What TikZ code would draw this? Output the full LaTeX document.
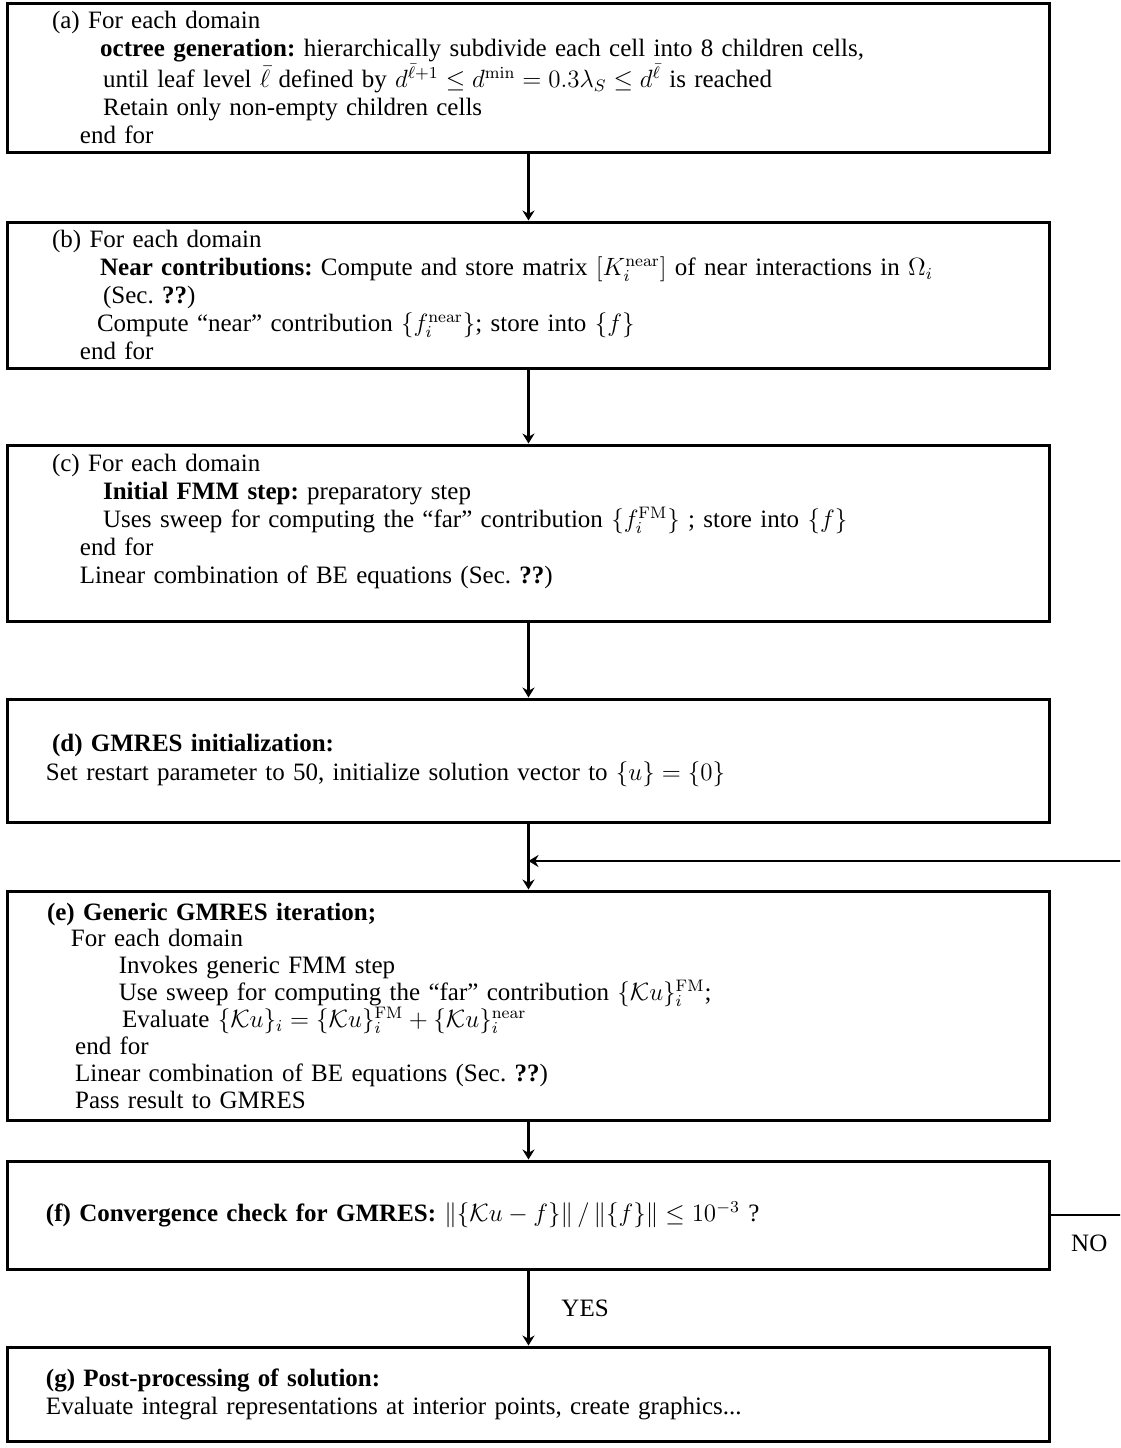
\documentclass[tikz,border=0pt]{standalone}
\usepackage[no-math]{fontspec}
\setmainfont{Liberation Serif}
\usetikzlibrary{arrows.meta}
\frenchspacing

\begin{document}
\begin{tikzpicture}[x=0.48pt, y=-0.48pt,
    stepbox/.style={draw, line width=1.44pt, minimum width=499.68pt, text width=463.2pt,
        inner xsep=18.24pt, align=left, font=\fontsize{12}{13.5}\selectfont},
    flow/.style={line width=1pt, -{Stealth[length=4.8pt, width=5.8pt, inset=1.6pt]}},
    lbl/.style={font=\fontsize{12}{13.5}\selectfont}]
    \useasboundingbox (0,0) rectangle (1120,1448);
    \clip (0,0) rectangle (1120,1448);

    % steps of the solver
    \node[stepbox, minimum height=71.52pt] (a) at (528.5,77.5) {%
        \hspace*{2.9pt}(a) For each domain\\
        \hspace*{26pt}\textbf{octree generation:} hierarchically subdivide each cell into 8 children cells,\\
        \hspace*{27.4pt}until leaf level $\bar{\ell}$ defined by $d^{\bar{\ell}+1}\leq d^{\mathrm{min}}=0.3\lambda_S\leq d^{\bar{\ell}}$ is reached\\
        \hspace*{27.4pt}Retain only non-empty children cells\\
        \hspace*{16.3pt}end for};
    \node[stepbox, minimum height=70.08pt] (b) at (528.5,295) {%
        \hspace*{2.9pt}(b) For each domain\\
        \hspace*{26pt}\textbf{Near contributions:} Compute and store matrix $[K_i^{\mathrm{near}}]$ of near interactions in $\Omega_i$\\
        \hspace*{27.4pt}(Sec. \textbf{??})\\
        \hspace*{24.5pt}Compute ``near'' contribution $\{f_i^{\mathrm{near}}\}$; store into $\{f\}$\\
        \hspace*{16.3pt}end for};
    \node[stepbox, minimum height=84.48pt] (c) at (528.5,533) {%
        \hspace*{2.9pt}(c) For each domain\\
        \hspace*{27.4pt}\textbf{Initial FMM step:} preparatory step\\
        \hspace*{27.4pt}Uses sweep for computing the ``far'' contribution $\{f_i^{\mathrm{FM}}\}$ ; store into $\{f\}$\\
        \hspace*{16.3pt}end for\\
        \hspace*{16.3pt}Linear combination of BE equations (Sec. \textbf{??})\\
        \mbox{}};
    \node[stepbox, minimum height=59.04pt] (d) at (528.5,760.5) {%
        \hspace*{2.9pt}\textbf{(d) GMRES initialization:}\\
        Set restart parameter to 50, initialize solution vector to $\{u\}=\{0\}$};
    \node[stepbox, minimum height=109.92pt, font=\fontsize{12}{12.9}\selectfont] (e) at (528.5,1005.5) {%
        \hspace*{0.5pt}\textbf{(e) Generic GMRES iteration;}\\
        \hspace*{12pt}For each domain\\
        \hspace*{35pt}Invokes generic FMM step\\
        \hspace*{35pt}Use sweep for computing the ``far'' contribution $\{\mathcal{K}u\}_i^{\mathrm{FM}}$;\\
        \hspace*{36.5pt}Evaluate $\{\mathcal{K}u\}_i=\{\mathcal{K}u\}_i^{\mathrm{FM}}+\{\mathcal{K}u\}_i^{\mathrm{near}}$\\
        \hspace*{14pt}end for\\
        \hspace*{14pt}Linear combination of BE equations (Sec. \textbf{??})\\
        \hspace*{14pt}Pass result to GMRES\par\vspace*{6.7pt}};
    \node[stepbox, minimum height=51.84pt] (f) at (528.5,1215) {%
        \textbf{(f) Convergence check for GMRES:} $\|\{\mathcal{K}u-f\}\|\,/\,\|\{f\}\|\leq 10^{-3}$ ?};
    \node[stepbox, minimum height=45.12pt] (g) at (528.5,1394) {%
        \textbf{(g) Post-processing of solution:}\\
        Evaluate integral representations at interior points, create graphics...};

    % loop back to the GMRES iteration
    \coordinate (loopy) at (0,861);
    \coordinate (loopx) at (1128,0);
    \coordinate (jn) at (d.south |- loopy);

    \draw[flow] (a.south) -- (b.north);
    \draw[flow] (b.south) -- (c.north);
    \draw[flow] (c.south) -- (d.north);
    \draw[flow] (d.south) -- (e.north);
    \draw[flow] (e.south) -- (f.north);
    \draw[flow] (f.east) -- node[lbl, below=5.5pt]{NO} (loopx |- f.east) -- (loopx |- loopy) -- (jn);
    \draw[flow] (f.south) -- node[lbl, right=12pt]{YES} (g.north);
\end{tikzpicture}
\end{document}
